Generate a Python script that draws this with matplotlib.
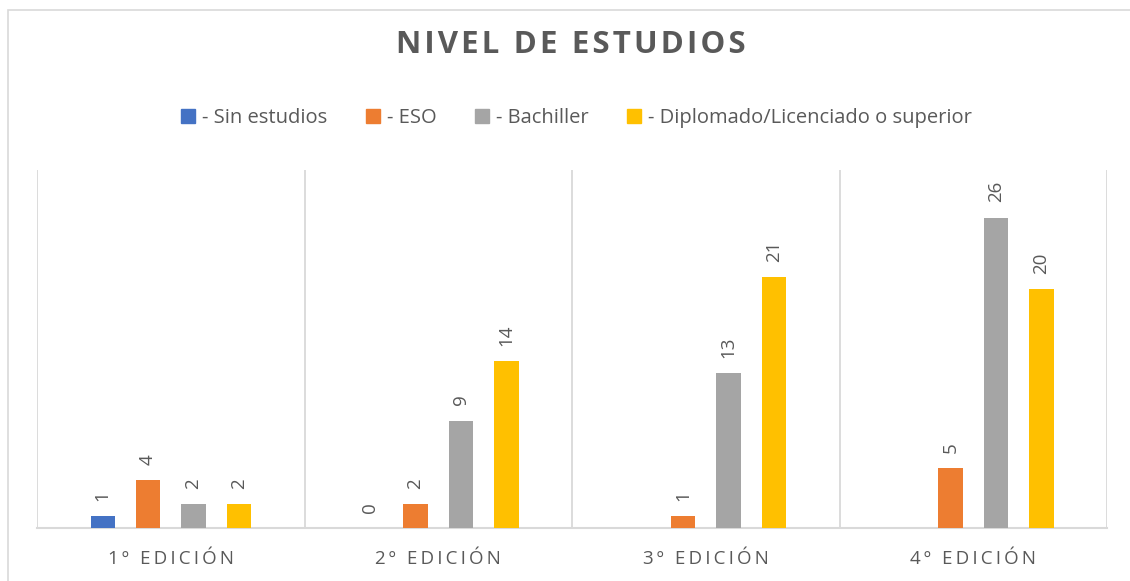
import matplotlib.pyplot as plt
import matplotlib.patches as mpatches
import numpy as np

plt.rcParams['font.family'] = ['Open Sans', 'DejaVu Sans']

ediciones = ['1º EDICIÓN', '2º EDICIÓN', '3º EDICIÓN', '4º EDICIÓN']
series = ['- Sin estudios', '- ESO', '- Bachiller', '- Diplomado/Licenciado o superior']
sin_estudios = [1, 0, np.nan, np.nan]
eso = [4, 2, 1, 5]
bachiller = [2, 9, 13, 26]
diplomado = [2, 14, 21, 20]

colors = ['#4472C4', '#ED7D31', '#A5A5A5', '#FFC000']
text_gray = '#595959'
line_gray = '#D9D9D9'


def spaced(s, sep='\u2009'):
    # fake Excel letter spacing
    return sep.join(s)


fig = plt.figure(figsize=(11.3, 5.81), dpi=100)
W, H = 1130, 581
ax = fig.add_axes([37 / W, (H - 528) / H, (1107 - 37) / W, (528 - 170) / H])

# outer chart frame
fig.patches.append(mpatches.Rectangle((8 / W, -0.1), 1.2, 1 - 10 / H + 0.1,
                                      transform=fig.transFigure, fill=False,
                                      edgecolor=line_gray, linewidth=1.2))

x = np.arange(len(ediciones))
step = 0.170
width = 0.090
all_vals = [sin_estudios, eso, bachiller, diplomado]
for i, (vals, name, c) in enumerate(zip(all_vals, series, colors)):
    pos = x + (i - 1.5) * step
    ax.bar(pos, vals, width=width, color=c, label=name, zorder=3)
    for p, v in zip(pos, vals):
        if np.isnan(v):
            continue
        ax.annotate(str(int(v)), (p, v), xytext=(0, 11), textcoords='offset points',
                    rotation=90, ha='center', va='bottom', color=text_gray,
                    fontsize=13.5)

ax.set_xlim(-0.5, len(ediciones) - 0.5)
ax.set_ylim(0, 30)
for b in np.arange(-0.5, len(ediciones), 1.0):
    ax.axvline(b, color=line_gray, linewidth=1.3, zorder=1)

for s in ['top', 'left', 'right']:
    ax.spines[s].set_visible(False)
ax.spines['bottom'].set_color(line_gray)
ax.spines['bottom'].set_linewidth(1.5)
ax.set_yticks([])
ax.set_xticks(x)
ax.set_xticklabels([spaced(e) for e in ediciones], color=text_gray, fontsize=13.5)
ax.tick_params(axis='x', length=0, pad=16)

fig.text(0.505, 1 - 45 / H, spaced('NIVEL DE ESTUDIOS', '\u200a'), ha='center',
         va='center', fontsize=22.5, fontweight='bold', color=text_gray)

handles = [mpatches.Patch(color=c) for c in colors]
fig.legend(handles, series, loc='center', bbox_to_anchor=(0.510, 1 - 118 / H),
           ncol=4, frameon=False, fontsize=14.5, labelcolor=text_gray,
           handlelength=0.7, handleheight=0.7, handletextpad=0.35, columnspacing=1.9)

fig.savefig('out.png', dpi=100)
